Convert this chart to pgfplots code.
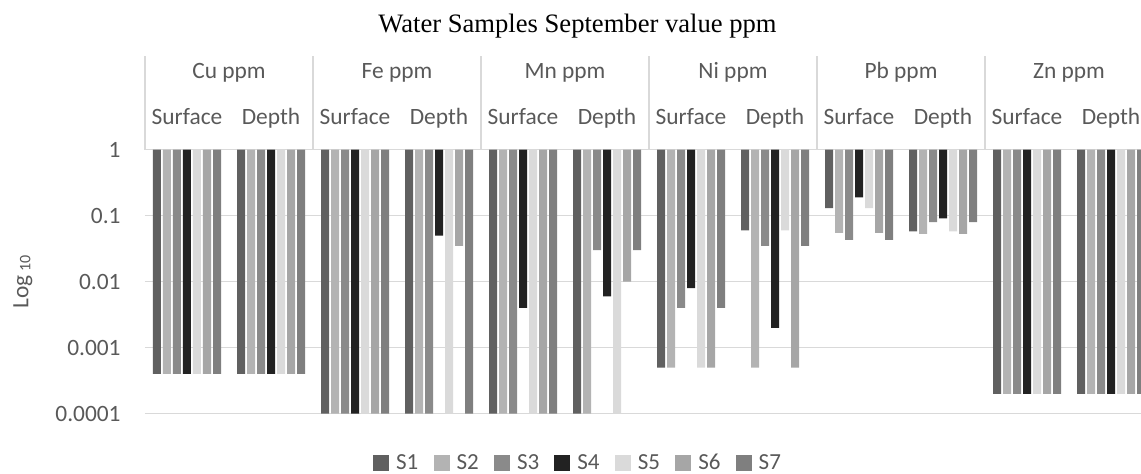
\documentclass[border=0pt]{standalone}
\usepackage{pgfplots}
\usepackage{pgfplotstable}
\pgfplotsset{compat=1.18}
\usepackage{fontspec}
\setmainfont{Carlito}
\newfontfamily\titlefont{Liberation Serif}

\definecolor{txt}{HTML}{595959}
\definecolor{gridc}{HTML}{D9D9D9}
\definecolor{cS1}{HTML}{606060}
\definecolor{cS2}{HTML}{B3B3B3}
\definecolor{cS3}{HTML}{8A8A8A}
\definecolor{cS4}{HTML}{222222}
\definecolor{cS5}{HTML}{DADADA}
\definecolor{cS6}{HTML}{A6A6A6}
\definecolor{cS7}{HTML}{7F7F7F}

% 0 Cu-Surface, 1 Cu-Depth, 2 Fe-S, 3 Fe-D, 4 Mn-S, 5 Mn-D,
% 6 Ni-S, 7 Ni-D, 8 Pb-S, 9 Pb-D, 10 Zn-S, 11 Zn-D
\pgfplotstableread{
x  s1     s2     s3     s4     s5     s6     s7
0  0.0004 0.0004 0.0004 0.0004 0.0004 0.0004 0.0004
1  0.0004 0.0004 0.0004 0.0004 0.0004 0.0004 0.0004
2  0.0001 0.0001 0.0001 0.0001 0.0001 0.0001 0.0001
3  0.0001 0.0001 0.0001 0.05   0.0001 0.035  0.0001
4  0.0001 0.0001 0.0001 0.004  0.0001 0.0001 0.0001
5  0.0001 0.0001 0.03   0.006  0.0001 0.01   0.03
6  0.0005 0.0005 0.004  0.008  0.0005 0.0005 0.004
7  0.06   0.0005 0.035  0.002  0.06   0.0005 0.035
8  0.13   0.055  0.043  0.19   0.13   0.055  0.043
9  0.058  0.053  0.08   0.091  0.058  0.053  0.08
10 0.0002 0.0002 0.0002 0.0002 0.0002 0.0002 0.0002
11 0.0002 0.0002 0.0002 0.0002 0.0002 0.0002 0.0002
}\datatable

\begin{document}
\begin{tikzpicture}[x=0.5pt,y=0.5pt]
\path[use as bounding box] (0,0) rectangle (1141,474);
\clip (0,0) rectangle (1141,474);

\begin{axis}[
    at={(72.5pt,30.15pt)}, anchor=south west,
    scale only axis, width=504pt, height=132pt,
    ymode=log, ymin=1e-4, ymax=1,
    xmin=-0.5, xmax=11.5,
    log origin y=0,
    ybar=1pt, bar width=4pt,
    axis line style={draw=none},
    major tick length=0pt, minor tick length=0pt,
    yminorticks=false,
    xtick=\empty,
    ytick={1e-4,1e-3,1e-2,1e-1,1},
    yticklabels={0.0001,0.001,0.01,0.1,1},
    yticklabel style={anchor=east, inner sep=0pt, xshift=-12pt, font=\fontsize{11.7}{14}\selectfont, text=txt},
    ymajorgrids,
    grid style={gridc, line width=0.7pt},
    clip=false,
    legend style={at={(0.4306,-0.187)}, anchor=center, draw=none, fill=none,
        legend columns=-1, font=\fontsize{11.5}{14}\selectfont, text=txt,
        /tikz/every odd column/.append style={column sep=1.5pt},
        /tikz/every even column/.append style={column sep=5.6pt}},
    legend image code/.code={\fill[#1] (0pt,-4pt) rectangle (8pt,4pt);},
]
\addplot[fill=cS1, draw=none] table[x=x, y=s1] {\datatable}; \addlegendentry{S1}
\addplot[fill=cS2, draw=none] table[x=x, y=s2] {\datatable}; \addlegendentry{S2}
\addplot[fill=cS3, draw=none] table[x=x, y=s3] {\datatable}; \addlegendentry{S3}
\addplot[fill=cS4, draw=none] table[x=x, y=s4] {\datatable}; \addlegendentry{S4}
\addplot[fill=cS5, draw=none] table[x=x, y=s5] {\datatable}; \addlegendentry{S5}
\addplot[fill=cS6, draw=none] table[x=x, y=s6] {\datatable}; \addlegendentry{S6}
\addplot[fill=cS7, draw=none] table[x=x, y=s7] {\datatable}; \addlegendentry{S7}
\end{axis}

% header with categories
\foreach \k in {0,...,6} {
  \draw[gridc, line width=0.7pt] ({145+168*\k},324.3) -- ({145+168*\k},418);
}
\foreach \m [count=\i from 0] in {Cu,Fe,Mn,Ni,Pb,Zn} {
  \node[anchor=base, text=txt, font=\fontsize{11.7}{14}\selectfont, inner sep=0pt]
    at ({145+84+168*\i},395) {\m\ ppm};
  \node[anchor=base, text=txt, font=\fontsize{11.7}{14}\selectfont, inner sep=0pt]
    at ({145+42+168*\i},349) {Surface};
  \node[anchor=base, text=txt, font=\fontsize{11.7}{14}\selectfont, inner sep=0pt]
    at ({145+126+168*\i},349) {Depth};
}

% title and y label
\node[anchor=base, font=\titlefont\fontsize{13.3}{16}\selectfont, inner sep=0pt] at (577.5,441)
  {Water Samples September value ppm};
\node[rotate=90, text=txt, font=\fontsize{11.7}{14}\selectfont, inner sep=0pt] at (23,192)
  {Log\,\raisebox{-1pt}{\fontsize{8}{9}\selectfont 10}};
\end{tikzpicture}
\end{document}
